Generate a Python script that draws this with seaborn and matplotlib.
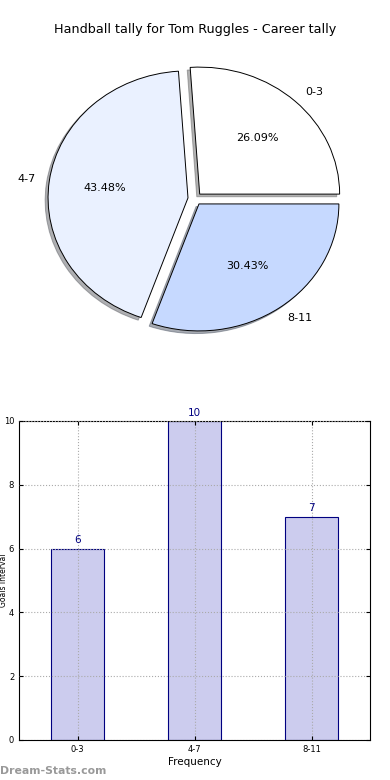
import matplotlib
matplotlib.use("Agg")
import matplotlib.pyplot as plt
import pandas as pd
import seaborn as sns

TITLE = "Handball tally for Tom Ruggles - Career tally"
categories = ["0-3", "4-7", "8-11"]
counts = [6, 10, 7]
pie_colors = ["#ffffff", "#eaf1ff", "#c6d9ff"]

sns.set_style("white")
plt.rcParams["font.family"] = ["DejaVu Sans"]
plt.rcParams["text.color"] = "black"
plt.rcParams["xtick.color"] = "black"
plt.rcParams["ytick.color"] = "black"
plt.rcParams["axes.labelcolor"] = "black"

fig = plt.figure(figsize=(3.9, 7.8), dpi=100)

# pie (top)
ax_pie = fig.add_axes([0.0513, 0.5417, 0.897, 0.407])
ax_pie.pie(
    counts,
    labels=categories,
    colors=pie_colors,
    explode=[0.05] * len(counts),
    autopct="%1.2f%%",
    shadow={"ox": -0.015, "oy": -0.015, "shade": 0.6},
    startangle=0,
    wedgeprops={"edgecolor": "black", "linewidth": 0.7},
    textprops={"fontsize": 8, "color": "black"},
)
ax_pie.set_aspect("auto")
ax_pie.set_xlim(-1.25, 1.25)
ax_pie.set_ylim(-1.25, 1.25)
ax_pie.axis("off")
fig.text(0.5, 0.962, TITLE, ha="center", va="center", fontsize=9.2)

# bar chart (bottom)
df = pd.DataFrame({"interval": categories, "count": counts})
ax_bar = fig.add_axes([0.049, 0.0513, 0.900, 0.409])
sns.barplot(
    data=df, x="interval", y="count", ax=ax_bar,
    color="#ccccee", edgecolor="#000080", linewidth=0.8, width=0.45,
    saturation=1,
)
for i, v in enumerate(counts):
    ax_bar.text(i, v + 0.1, str(v), ha="center", va="bottom",
                color="#000080", fontsize=7.5)
ax_bar.set_xlim(-0.5, 2.5)
ax_bar.set_ylim(0, 10)
ax_bar.set_yticks(range(0, 11, 2))
ax_bar.grid(True, linestyle=":", color="#aaaaaa", linewidth=0.8)
ax_bar.set_axisbelow(False)
ax_bar.tick_params(labelsize=6, direction="in", length=3, top=True, right=True,
                   left=True, bottom=True)
for s in ax_bar.spines.values():
    s.set_color("black")
    s.set_linewidth(0.8)
ax_bar.set_xlabel("Frequency", fontsize=7.5, labelpad=2)
ax_bar.set_ylabel("Goals Interval", fontsize=5.5)
ax_bar.yaxis.set_label_coords(-0.033, 0.5)

fig.text(0.0, 0.012, "Dream-Stats.com", color="#999999", fontsize=7.8,
         fontweight="bold", ha="left", va="center")

fig.savefig("out.png", dpi=100)
